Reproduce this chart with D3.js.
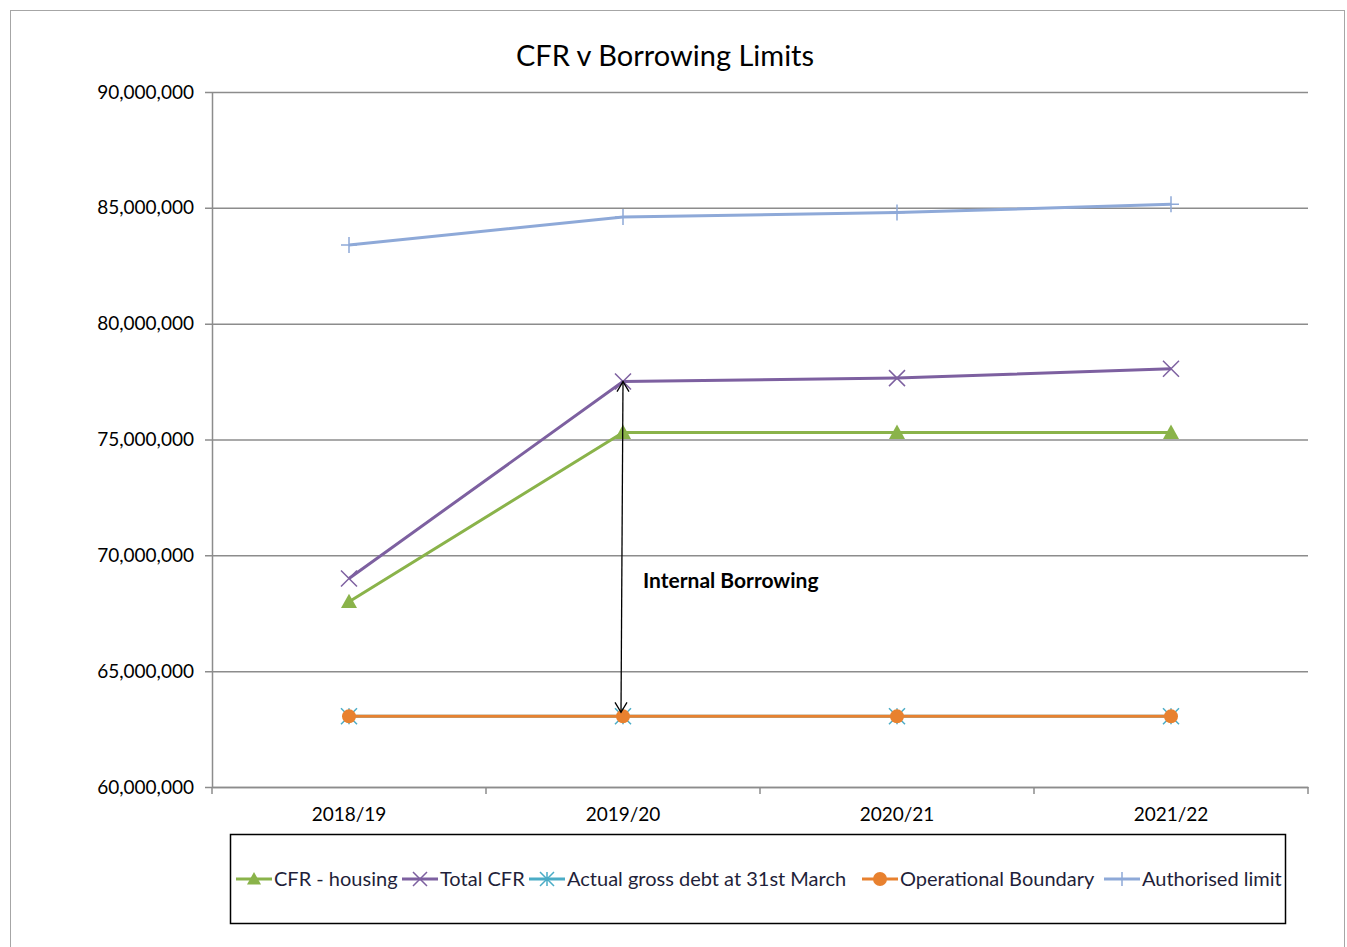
<!DOCTYPE html>
<html lang="en">
<head>
    <meta charset="UTF-8">
    <title>CFR v Borrowing Limits</title>
    <style>
        html, body { margin: 0; padding: 0; background: #fff; }
        body { font-family: Lato, "Open Sans", sans-serif; }
    </style>
</head>
<body>
    <div id="wrapper"></div>
    <script src="https://cdn.jsdelivr.net/npm/d3@7"></script>
    <script>
        // data
        const years = ['2018/19', '2019/20', '2020/21', '2021/22'];
        const cfrHousing = [68000000, 75300000, 75300000, 75300000];
        const totalCfr = [69000000, 77500000, 77650000, 78050000];
        const actualDebt = [63050000, 63050000, 63050000, 63050000];
        const operationalBoundary = [63050000, 63050000, 63050000, 63050000];
        const authorisedLimit = [83400000, 84600000, 84800000, 85150000];
        const yTicks = [60000000, 65000000, 70000000, 75000000, 80000000, 85000000, 90000000];

        const series = [
            { name: 'CFR - housing', values: cfrHousing, color: '#8AB34A', marker: 'triangle' },
            { name: 'Total CFR', values: totalCfr, color: '#7D60A0', marker: 'x' },
            { name: 'Actual gross debt at 31st March', values: actualDebt, color: '#4BACC6', marker: 'star' },
            { name: 'Operational Boundary', values: operationalBoundary, color: '#E8812F', marker: 'circle' },
            { name: 'Authorised limit', values: authorisedLimit, color: '#8EA9D8', marker: 'plus' }
        ];

        const width = 1347, height = 947;
        const plot = { left: 212, right: 1308, top: 92, bottom: 787 };

        const svg = d3.select('#wrapper').append('svg')
            .attr('width', width)
            .attr('height', height);

        // outer chart frame
        svg.append('rect')
            .attr('x', 10.5).attr('y', 10.5)
            .attr('width', 1334).attr('height', 960)
            .attr('fill', '#fff')
            .attr('stroke', '#a6a6a6');

        svg.append('text')
            .attr('x', 665).attr('y', 66)
            .attr('text-anchor', 'middle')
            .style('font-size', '29px')
            .style('fill', '#000')
            .text('CFR v Borrowing Limits');

        const xBand = d3.scaleBand().domain(years).range([plot.left, plot.right]);
        const xScale = d => xBand(d) + xBand.bandwidth() / 2;
        const yScale = d3.scaleLinear().domain([60000000, 90000000]).range([plot.bottom, plot.top]);

        // gridlines + y axis
        const yAxis = d3.axisLeft(yScale)
            .tickValues(yTicks)
            .tickFormat(d3.format(','))
            .tickSizeInner(-(plot.right - plot.left))
            .tickSizeOuter(0)
            .tickPadding(18);

        const yAxisG = svg.append('g')
            .attr('transform', `translate(${plot.left},0)`)
            .call(yAxis);
        yAxisG.select('.domain').attr('stroke', '#8c8c8c').attr('stroke-width', 1.5);
        yAxisG.selectAll('.tick line')
            .attr('stroke', '#8c8c8c')
            .attr('stroke-width', 1.5)
            .attr('x1', -7);
        yAxisG.selectAll('.tick text')
            .style('font-family', 'Lato, sans-serif')
            .style('font-size', '19px')
            .attr('fill', '#000');

        // x axis
        const xAxis = d3.axisBottom(xBand).tickSize(0).tickPadding(21);
        const xAxisG = svg.append('g')
            .attr('transform', `translate(0,${plot.bottom})`)
            .call(xAxis);
        xAxisG.select('.domain').attr('stroke', '#8c8c8c').attr('stroke-width', 1.5);
        xAxisG.selectAll('.tick text')
            .style('font-family', 'Lato, sans-serif')
            .style('font-size', '19px')
            .attr('fill', '#000');
        // boundary ticks between categories
        const bounds = years.map(d => xBand(d)).concat([plot.right]);
        xAxisG.selectAll('.bound')
            .data(bounds)
            .join('line')
            .attr('class', 'bound')
            .attr('x1', d => d).attr('x2', d => d)
            .attr('y1', 0).attr('y2', 7)
            .attr('stroke', '#8c8c8c')
            .attr('stroke-width', 1.5);

        // marker drawing
        function drawMarker(g, type, color, size) {
            const s = size;
            if (type === 'triangle') {
                g.append('path')
                    .attr('d', `M0,${-s} L${s},${s * 0.8} L${-s},${s * 0.8} Z`)
                    .attr('fill', color);
            } else if (type === 'x') {
                g.append('path')
                    .attr('d', `M${-s},${-s} L${s},${s} M${-s},${s} L${s},${-s}`)
                    .attr('stroke', color).attr('stroke-width', 1.5).attr('fill', 'none');
            } else if (type === 'star') {
                g.append('path')
                    .attr('d', `M${-s},${-s} L${s},${s} M${-s},${s} L${s},${-s} M0,${-s} L0,${s}`)
                    .attr('stroke', color).attr('stroke-width', 1.5).attr('fill', 'none');
            } else if (type === 'circle') {
                g.append('circle').attr('r', s).attr('fill', color);
            } else if (type === 'plus') {
                g.append('path')
                    .attr('d', `M${-s},0 L${s},0 M0,${-s} L0,${s}`)
                    .attr('stroke', color).attr('stroke-width', 1.5).attr('fill', 'none');
            }
        }

        const line = d3.line()
            .x((d, i) => xScale(years[i]))
            .y(d => yScale(d));

        series.forEach(s => {
            svg.append('path')
                .attr('d', line(s.values))
                .attr('fill', 'none')
                .attr('stroke', s.color)
                .attr('stroke-width', 3);
            s.values.forEach((v, i) => {
                const g = svg.append('g')
                    .attr('transform', `translate(${xScale(years[i])},${yScale(v)})`);
                drawMarker(g, s.marker, s.color, s.marker === 'circle' ? 7 : 8);
            });
        });

        // internal borrowing arrow
        const arrowX = xScale(years[1]);
        const yTop = yScale(totalCfr[1]);
        const yBot = yScale(operationalBoundary[1]);
        svg.append('line')
            .attr('x1', arrowX).attr('x2', arrowX - 2)
            .attr('y1', yTop).attr('y2', yBot - 4)
            .attr('stroke', '#000').attr('stroke-width', 1.3);
        svg.append('path')
            .attr('d', `M${arrowX - 6},${yTop + 10} L${arrowX},${yTop} L${arrowX + 6},${yTop + 10}`)
            .attr('fill', 'none').attr('stroke', '#000').attr('stroke-width', 1.3);
        svg.append('path')
            .attr('d', `M${arrowX - 8},${yBot - 14} L${arrowX - 2},${yBot - 4} L${arrowX + 4},${yBot - 14}`)
            .attr('fill', 'none').attr('stroke', '#000').attr('stroke-width', 1.3);
        svg.append('text')
            .attr('x', 643).attr('y', 588)
            .style('font-size', '21px')
            .style('font-weight', 'bold')
            .text('Internal Borrowing');

        // legend
        svg.append('rect')
            .attr('x', 230.5).attr('y', 834.5)
            .attr('width', 1055).attr('height', 89)
            .attr('fill', '#fff')
            .attr('stroke', '#000')
            .attr('stroke-width', 1.5);

        const legendStarts = [236, 402, 529, 862, 1104];
        series.forEach((s, i) => {
            const lg = svg.append('g')
                .attr('transform', `translate(${legendStarts[i]},879)`);
            lg.append('line')
                .attr('x1', 0).attr('x2', 36)
                .attr('stroke', s.color).attr('stroke-width', 3);
            const mg = lg.append('g').attr('transform', 'translate(18,0)');
            drawMarker(mg, s.marker, s.color, 7);
            lg.append('text')
                .attr('x', 38).attr('y', 7)
                .style('font-size', '20px')
                .attr('fill', '#1f1f3a')
                .text(s.name);
        });
    </script>
</body>
</html>
